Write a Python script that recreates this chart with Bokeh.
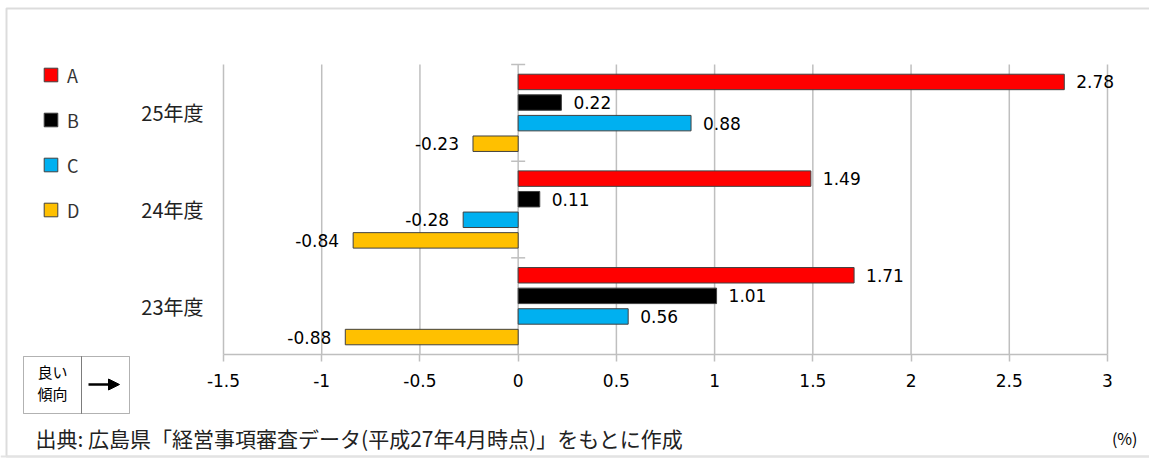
from bokeh.plotting import figure
from bokeh.models import (Range1d, FixedTicker, Legend, LegendItem, LabelSet, Label,
                          BoxAnnotation, Arrow, NormalHead, ColumnDataSource, LinearAxis, Span)
from bokeh.core.properties import value
from bokeh.embed import file_html
from bokeh.resources import INLINE

# ---- data ----
years = ["25年度", "24年度", "23年度"]
series_names = ["A", "B", "C", "D"]
series_A = [2.78, 1.49, 1.71]
series_B = [0.22, 0.11, 1.01]
series_C = [0.88, -0.28, 0.56]
series_D = [-0.23, -0.84, -0.88]
series_colors = ["#FF0000", "#000000", "#00B0F0", "#FFC000"]
tick_values = [-1.5, -1, -0.5, 0, 0.5, 1, 1.5, 2, 2.5, 3]
tick_labels = ["-1.5", "-1", "-0.5", "0", "0.5", "1", "1.5", "2", "2.5", "3"]
source_text = "出典: 広島県「経営事項審査データ(平成27年4月時点)」をもとに作成"
unit_text = "(%)"
badge_lines = ["良い", "傾向"]

# ---- layout (pixels) ----
W, H = 1149, 459
PL, PR, PT, PB = 223, 1107, 64, 354   # plot area edges on the canvas
n = len(years)
x_min, x_max = tick_values[0], tick_values[-1]
ppu_x = (PR - PL) / (x_max - x_min)
ppu_y = (PB - PT) / n
x_range = Range1d(x_min - PL / ppu_x, x_max + (W - PR) / ppu_x)
y_range = Range1d(-(H - PB) / ppu_y, n + PT / ppu_y)


def sy(py):
    return H - py


GRID = "#BFBFBF"

p = figure(frame_width=W, frame_height=H, min_border=0,
           x_range=x_range, y_range=y_range,
           output_backend="svg", toolbar_location=None,
           x_axis_location=None, y_axis_location=None,
           outline_line_color=None)
p.grid.visible = False

cat_center = [n - i - 0.5 for i in range(n)]

# vertical grid lines
p.segment(x0=tick_values, y0=[0] * len(tick_values), x1=tick_values,
          y1=[n] * len(tick_values), line_color=GRID, line_width=1.5)

# value axis (bottom)
ticker = FixedTicker(ticks=tick_values)
xax = LinearAxis(fixed_location=0, bounds=(x_min, x_max), ticker=ticker)
xax.major_label_overrides = {float(v): t for v, t in zip(tick_values, tick_labels)}
xax.axis_line_color = GRID
xax.axis_line_width = 1.5
xax.major_tick_line_color = GRID
xax.major_tick_line_width = 1.5
xax.major_tick_out = 7
xax.major_tick_in = 0
xax.minor_tick_out = 0
xax.minor_tick_in = 0
xax.major_label_standoff = 12
xax.major_label_text_font = "DejaVu Sans"
xax.major_label_text_font_size = "17px"
xax.major_label_text_color = "#000000"
p.add_layout(xax, "below")

# category boundary ticks on the zero line
p.scatter(x=[0] * n, y=[float(k) for k in range(1, n + 1)], marker="dash",
          size=14, line_color=GRID, line_width=1.5)

all_series = [series_A, series_B, series_C, series_D]
step = 0.213
items = []
for si, (name, vals, color) in enumerate(zip(series_names, all_series, series_colors)):
    off = (1.5 - si) * step
    ys = [c + off for c in cat_center]
    src = ColumnDataSource(dict(y=ys, right=vals))
    r = p.hbar(y="y", left=0, right="right", height=0.16, fill_color=color,
               line_color="#404040", line_width=1, source=src)
    items.append(LegendItem(label=name, renderers=[r]))
    pos = ColumnDataSource(dict(x=[v for v in vals if v >= 0],
                                y=[y for y, v in zip(ys, vals) if v >= 0],
                                t=[f"{v:.2f}" for v in vals if v >= 0]))
    neg = ColumnDataSource(dict(x=[v for v in vals if v < 0],
                                y=[y for y, v in zip(ys, vals) if v < 0],
                                t=[f"{v:.2f}" for v in vals if v < 0]))
    p.add_layout(LabelSet(x="x", y="y", text="t", source=pos, x_offset=12,
                          text_align="left", text_baseline="middle",
                          text_font=value("DejaVu Sans"), text_font_size="17px",
                          text_color="#000000"))
    p.add_layout(LabelSet(x="x", y="y", text="t", source=neg, x_offset=-14,
                          text_align="right", text_baseline="middle",
                          text_font=value("DejaVu Sans"), text_font_size="17px",
                          text_color="#000000"))

legend = Legend(items=items, location=(42, sy(222.5)), orientation="vertical",
                glyph_width=17, glyph_height=17, label_height=25,
                label_standoff=8, spacing=19, padding=0, margin=0,
                border_line_color=None, background_fill_alpha=0,
                label_text_font="Noto Sans CJK JP", label_text_font_size="18px",
                label_text_color="#333333")
p.add_layout(legend)

# category labels
cat_src = ColumnDataSource(dict(y=cat_center, t=years))
p.add_layout(LabelSet(x=203, y="y", text="t", source=cat_src, x_units="screen",
                      text_align="right", text_baseline="middle",
                      text_font=value("Noto Sans CJK JP"), text_font_size="20px",
                      text_color="#222222"))

# outer frame
p.add_layout(BoxAnnotation(left=6, right=W + 50, top=sy(8), bottom=sy(456),
                           left_units="screen", right_units="screen",
                           top_units="screen", bottom_units="screen",
                           fill_alpha=0, line_color="#8C8C8C", line_width=2))
p.add_layout(Span(location=sy(456), location_units="screen", dimension="width",
                  line_color="#E3E3E3", line_width=2))

# "良い傾向 →" badge
for l, rr in [(23, 81), (81, 129)]:
    p.add_layout(BoxAnnotation(left=l, right=rr, top=sy(356), bottom=sy(413),
                               left_units="screen", right_units="screen",
                               top_units="screen", bottom_units="screen",
                               fill_alpha=0, line_color="#000000", line_width=1))
for txt, py in zip(badge_lines, [371, 393]):
    p.add_layout(Label(x=52, y=sy(py), x_units="screen", y_units="screen", text=txt,
                       text_align="center", text_baseline="middle",
                       text_font="Noto Sans CJK JP", text_font_size="15px",
                       text_color="#000000"))
p.add_layout(Arrow(x_start=88, y_start=sy(384), x_end=119, y_end=sy(384),
                   start_units="screen", end_units="screen",
                   line_width=2.5, line_color="#000000",
                   end=NormalHead(size=11, fill_color="#000000", line_color="#000000")))

# footer texts
p.add_layout(Label(x=35, y=sy(437), x_units="screen", y_units="screen", text=source_text,
                   text_align="left", text_baseline="middle",
                   text_font="Noto Sans CJK JP", text_font_size="21px",
                   text_color="#222222"))
p.add_layout(Label(x=1137, y=sy(437), x_units="screen", y_units="screen", text=unit_text,
                   text_align="right", text_baseline="middle",
                   text_font="Noto Sans CJK JP", text_font_size="16px",
                   text_color="#000000"))

open("out.html", "w").write(file_html(p, INLINE))
